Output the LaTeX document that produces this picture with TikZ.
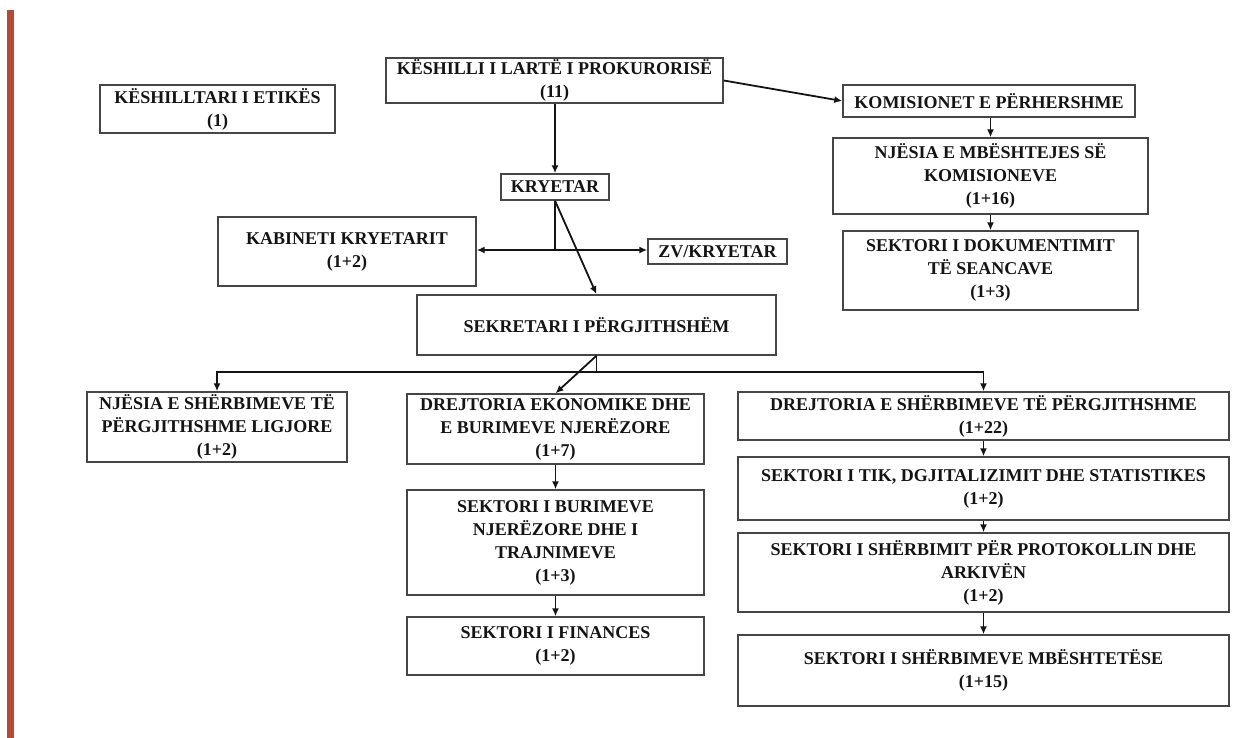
\documentclass[tikz,border=0pt]{standalone}
\usepackage{fontspec}
\setmainfont{Liberation Serif}
\usetikzlibrary{arrows.meta}
\definecolor{barred}{RGB}{182,74,50}
\definecolor{boxline}{RGB}{70,70,70}
\definecolor{inkc}{RGB}{20,20,20}
\tikzset{
  box/.style={draw=boxline, line width=1.4pt, fill=white, align=center, inner sep=0pt,
    text=inkc, font=\bfseries\fontsize{18}{23}\selectfont},
  arr/.style={draw=inkc, line width=1.8pt, -{Latex[length=8pt,width=7pt]}},
  ln/.style={draw=inkc, line width=1.8pt}
}
\begin{document}
\begin{tikzpicture}[x=1pt,y=-1pt]
\useasboundingbox (0,0) rectangle (1244,738);
\fill[white] (0,0) rectangle (1244,738);
\fill[barred] (7,10) rectangle (14,738);

\node[box, minimum width=235pt, minimum height=48pt] (etika) at (217.5,109) {KËSHILLTARI I ETIKËS\\(1)};
\node[box, minimum width=337pt, minimum height=45pt] (klp) at (554.5,80.5) {KËSHILLI I LARTË I PROKURORISË\\(11)};
\node[box, minimum width=292pt, minimum height=32pt] (kom) at (989,101) {KOMISIONET E PËRHERSHME};
\node[box, minimum width=315pt, minimum height=76pt] (njmb) at (990.5,176) {NJËSIA E MBËSHTEJES SË\\KOMISIONEVE\\(1+16)};
\node[box, minimum width=295pt, minimum height=79pt] (sdok) at (990.5,270.5) {SEKTORI I DOKUMENTIMIT\\TË SEANCAVE\\(1+3)};
\node[box, minimum width=108pt, minimum height=26pt] (kry) at (555,187) {KRYETAR};
\node[box, minimum width=258pt, minimum height=69pt] (kab) at (347,251.5) {KABINETI KRYETARIT\\(1+2)};
\node[box, minimum width=139pt, minimum height=25pt] (zv) at (717.5,251.5) {ZV/KRYETAR};
\node[box, minimum width=359pt, minimum height=60pt] (sek) at (596.5,325) {SEKRETARI I PËRGJITHSHËM};
\node[box, minimum width=260pt, minimum height=70pt] (njsh) at (217,427) {NJËSIA E SHËRBIMEVE TË\\PËRGJITHSHME LIGJORE\\(1+2)};
\node[box, minimum width=297pt, minimum height=70pt] (dek) at (555.5,429) {DREJTORIA EKONOMIKE DHE\\E BURIMEVE NJERËZORE\\(1+7)};
\node[box, minimum width=297pt, minimum height=105pt] (sbur) at (555.5,542.5) {SEKTORI I BURIMEVE\\NJERËZORE DHE I\\TRAJNIMEVE\\(1+3)};
\node[box, minimum width=297pt, minimum height=58pt] (sfin) at (555.5,646) {SEKTORI I FINANCES\\(1+2)};
\node[box, minimum width=491pt, minimum height=48pt] (dsh) at (983.5,416) {DREJTORIA E SHËRBIMEVE TË PËRGJITHSHME\\(1+22)};
\node[box, minimum width=491pt, minimum height=63pt] (stik) at (983.5,488.5) {SEKTORI I TIK, DGJITALIZIMIT DHE STATISTIKES\\(1+2)};
\node[box, minimum width=491pt, minimum height=79pt] (sprot) at (983.5,572.5) {SEKTORI I SHËRBIMIT PËR PROTOKOLLIN DHE\\ARKIVËN\\(1+2)};
\node[box, minimum width=491pt, minimum height=71pt] (smb) at (983.5,670.5) {SEKTORI I SHËRBIMEVE MBËSHTETËSE\\(1+15)};

% top connectors
\draw[arr] (klp.south -| kry.north) -- (kry.north);
\draw[arr] (klp.east) -- (kom.west);
\draw[arr] (kom.south -| njmb.north) -- (njmb.north);
\draw[arr] (njmb.south) -- (sdok.north);

% president branches
\coordinate (kj) at (555,250);
\draw[ln] (kry.south) -- (kj);
\draw[arr] (kj) -- (kab.east |- kj);
\draw[arr] (kj) -- (zv.west |- kj);
\draw[arr] (kry.south) -- (sek.north);

% secretary bus
\coordinate (bus) at (596.5,372);
\coordinate (busl) at (217,372);
\coordinate (busr) at (983.5,372);
\draw[ln] (sek.south) -- (bus);
\draw[ln, line cap=rect] (busl) -- (busr);
\draw[arr] (busl) -- (njsh.north);
\draw[arr] (busr) -- (dsh.north);
\draw[arr] (sek.south) -- (dek.north);

% left column
\draw[arr] (dek.south) -- (sbur.north);
\draw[arr] (sbur.south) -- (sfin.north);

% right column
\draw[arr] (dsh.south) -- (stik.north);
\draw[arr] (stik.south) -- (sprot.north);
\draw[arr] (sprot.south) -- (smb.north);
\end{tikzpicture}
\end{document}
